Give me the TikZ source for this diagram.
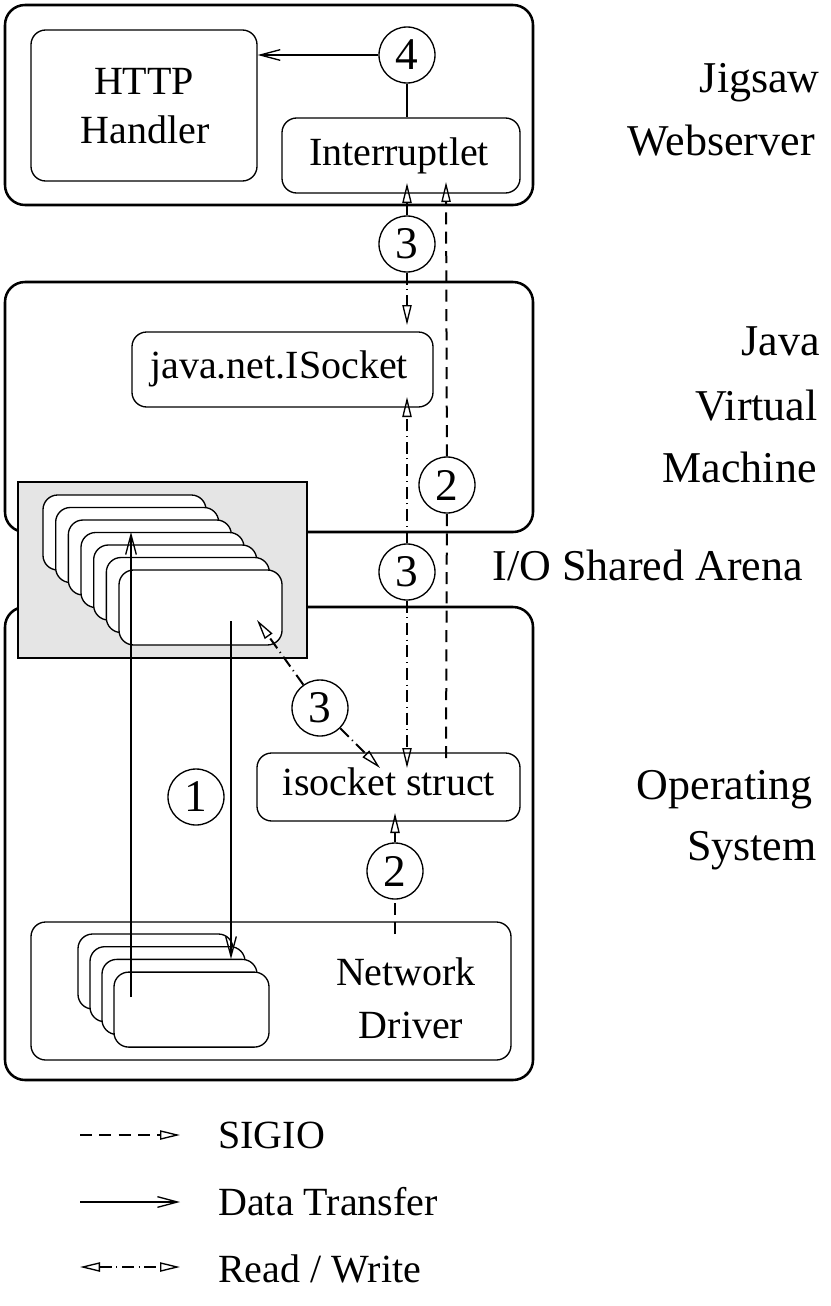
\documentclass[tikz,border=0pt]{standalone}
\usepackage{fontspec}
\setmainfont{Liberation Serif}
\usetikzlibrary{arrows.meta,fit}
\begin{document}
\begin{tikzpicture}[x=0.75pt,y=-0.75pt,
  outerbox/.style={draw, line width=1.9pt, rounded corners=15pt, inner sep=0pt},
  innerbox/.style={draw, line width=1pt, rounded corners=11pt, inner sep=0pt, fill=white},
  num/.style={draw, circle, line width=1pt, minimum size=42pt, inner sep=0pt, fill=white, font=\fontsize{34}{34}\selectfont},
  sidelab/.style={font=\fontsize{33}{36}\selectfont, anchor=base east, inner sep=0pt},
  txt/.style={font=\fontsize{30}{32}\selectfont, anchor=base, inner sep=0pt},
  legtxt/.style={font=\fontsize{30}{32}\selectfont, anchor=base west, inner sep=0pt},
  plain/.style={line width=1.5pt},
  data/.style={line width=1.5pt, -{Straight Barb[length=15pt,width=8pt,line width=1pt]}},
  sig/.style={line width=1.5pt, dash pattern=on 9pt off 5.5pt, -{Triangle[open,length=15pt,width=7pt,line width=1pt]}},
  signotip/.style={line width=1.5pt, dash pattern=on 9pt off 5.5pt},
  rw/.style={line width=1.5pt, dash pattern=on 9pt off 3.5pt on 0.8pt off 3.5pt, -{Triangle[open,length=15pt,width=7pt,line width=1pt]}},
  rwboth/.style={line width=1.5pt, dash pattern=on 9pt off 3.5pt on 0.8pt off 3.5pt, {Triangle[open,length=15pt,width=7pt,line width=1pt]}-{Triangle[open,length=15pt,width=7pt,line width=1pt]}},
]
\useasboundingbox (0,0) rectangle (831,1306);

% outer layers
\node[outerbox, fit={(5,5) (533,205)}] (jig) {};
\node[outerbox, fit={(5,282) (533,532)}] (jvm) {};
\node[outerbox, fit={(5,607) (533,1080)}] (os) {};

% shared arena
\node[draw, line width=1pt, fill={rgb,255:red,229;green,229;blue,229}, inner sep=0pt, fit={(18,482) (307,658)}] (arena) {};
\foreach \i in {0,...,6} {
  \node[innerbox, fit={({43+12.67*\i},{495+12.5*\i}) ({206+12.67*\i},{570+12.5*\i})}] (ar\i) {};
}

% Jigsaw boxes
\node[innerbox, fit={(31,30) (257,181)}] (http) {};
\node[txt] (httpt) at (144,94) {HTTP};
\node[txt] (handt) at (145,143) {Handler};
\node[innerbox, fit={(282,118) (520,193)}] (inter) {};
\node[txt] (intert) at (399,165) {Interruptlet};

% JVM
\node[innerbox, fit={(132,332) (433,407)}] (isock) {};
\node[txt] (isockt) at (279,378) {java.net.ISocket};

% OS
\node[innerbox, fit={(257,753) (520,821)}] (istruct) {};
\node[txt] (istructt) at (389,795) {isocket struct};
\node[innerbox, fit={(31,922) (511,1060)}] (nd) {};
\foreach \i in {0,...,3} {
  \node[innerbox, fit={({78+12*\i},{934+12.7*\i}) ({233+12*\i},{1009+12.7*\i})}] (nb\i) {};
}
\node[txt] (ndt1) at (406,985) {Network};
\node[txt] (ndt2) at (411,1038) {Driver};

% side labels
\node[sidelab] (l1) at (820,93) {Jigsaw};
\node[sidelab] (l2) at (815,155) {Webserver};
\node[sidelab] (l3) at (820,355) {Java};
\node[sidelab] (l4) at (818,420) {Virtual};
\node[sidelab] (l5) at (817,482) {Machine};
\node[sidelab] (l6) at (803,580) {I/O Shared Arena};
\node[sidelab] (l7) at (813,799) {Operating};
\node[sidelab] (l8) at (817,860) {System};

% circles
\node[num] (c4) at (407,55) {4};
\node[num] (c3a) at (407,244) {3};
\node[num] (c3b) at (407,572) {3};
\node[num] (c3c) at (320,708) {3};
\node[num] (c2a) at (447,485) {2};
\node[num] (c2b) at (395,871) {2};
\node[num] (c1) at (196,797) {1};

% tip / end coordinates
\coordinate (upstart) at (131,997);
\coordinate (uptip) at (131,532);
\coordinate (dnstart) at (231,621);
\coordinate (dntip) at (231,959);
\coordinate (tInterRW) at (407,183);
\coordinate (tIsockTop) at (407,325);
\coordinate (tIsockBot) at (407,397);
\coordinate (tStructTop) at (407,768);
\coordinate (tArena) at (257,620);
\coordinate (tStructDiag) at (380,768);
\coordinate (sStructTop) at (446,758);
\coordinate (tInterSig) at (446,182);
\coordinate (sDriver) at (395,934);
\coordinate (tStructBot) at (395,813);

% connectors
\draw[data] (c4) -- (c4 -| http.east);
\draw[plain] (c4) -- (c4 |- inter.north);
\draw[data] (upstart) -- (uptip);
\draw[data] (dnstart) -- (dntip);
\draw[rw] (c3a) -- (tInterRW);
\draw[rw] (c3a) -- (tIsockTop);
\draw[rw] (c3b) -- (tIsockBot);
\draw[rw] (c3b) -- (tStructTop);
\draw[rw] (c3c) -- (tArena);
\draw[rw] (c3c) -- (tStructDiag);
\draw[signotip] (sStructTop) -- (c2a);
\draw[sig] (c2a) -- (tInterSig);
\draw[signotip] (sDriver) -- (c2b);
\draw[sig] (c2b) -- (tStructBot);

% legend
\coordinate (la1) at (80,1135); \coordinate (lb1) at (180,1135);
\coordinate (la2) at (80,1202); \coordinate (lb2) at (180,1202);
\coordinate (la3) at (80,1267); \coordinate (lb3) at (180,1267);
\draw[sig] (la1) -- (lb1);
\draw[data] (la2) -- (lb2);
\draw[rwboth] (la3) -- (lb3);
\node[legtxt] (g1) at (218,1148) {SIGIO};
\node[legtxt] (g2) at (218,1215) {Data Transfer};
\node[legtxt] (g3) at (218,1282) {Read / Write};
\end{tikzpicture}
\end{document}
